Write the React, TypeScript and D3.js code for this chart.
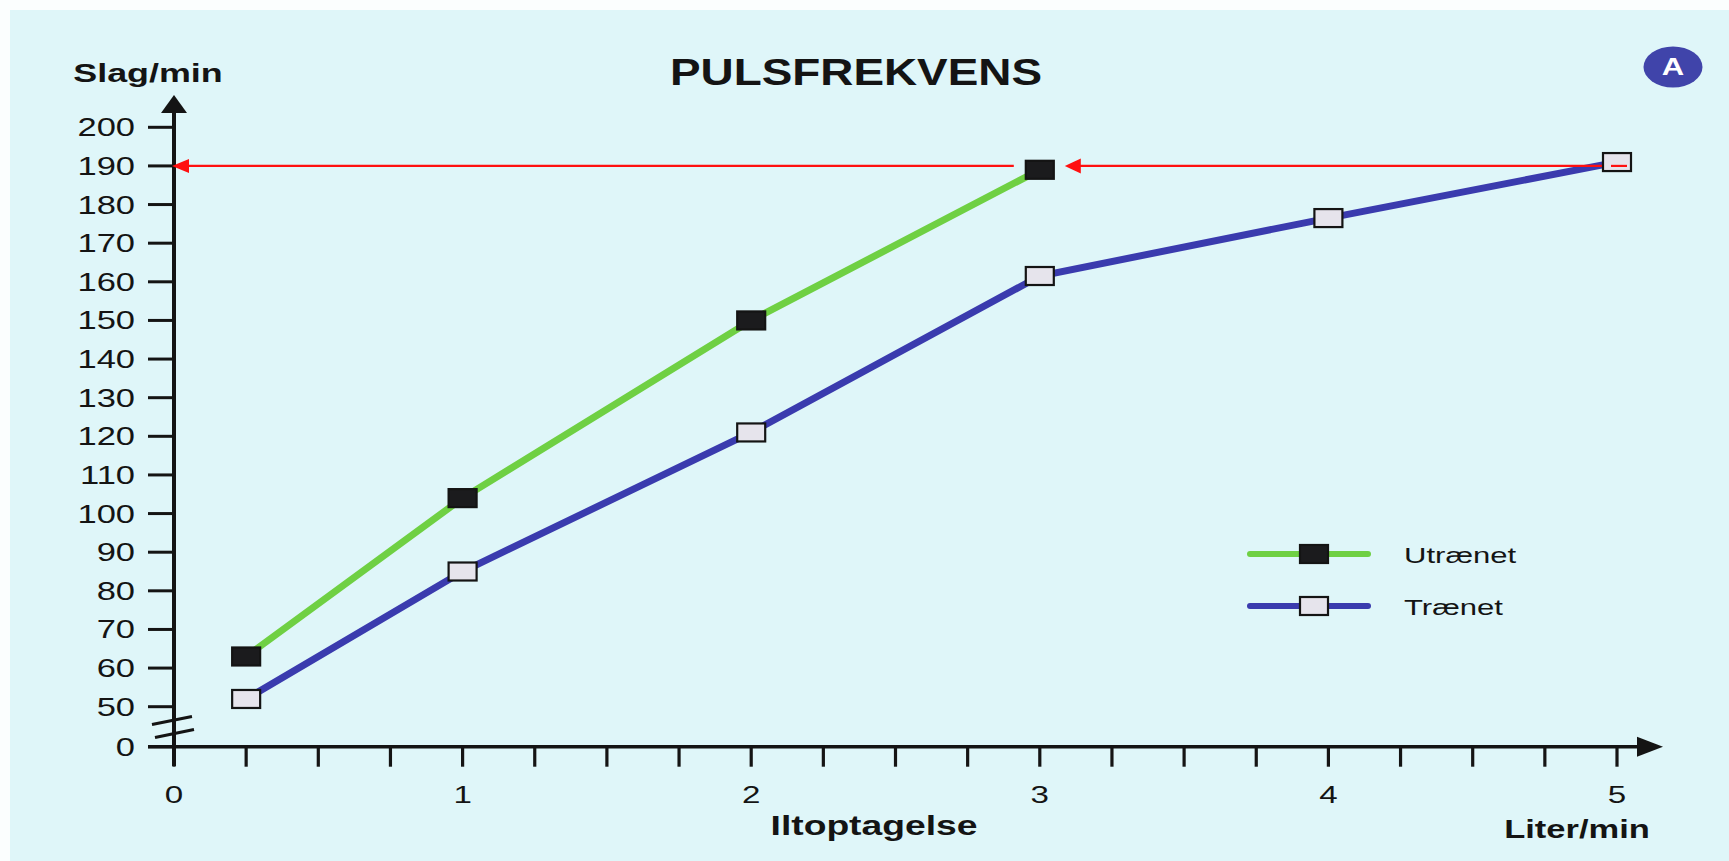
import React from "react";
import * as d3 from "d3";

const title = "PULSFREKVENS";
const yAxisTitle = "Slag/min";
const xAxisTitle = "Iltoptagelse";
const xUnitTitle = "Liter/min";
const badgeLabel = "A";

const yTicks = [50, 60, 70, 80, 90, 100, 110, 120, 130, 140, 150, 160, 170, 180, 190, 200];
const xLabelTicks = [0, 1, 2, 3, 4, 5];
const xMinorStep = 0.25;

const seriesNames = ["Utrænet", "Trænet"];
const utraenetX = [0.25, 1, 2, 3];
const utraenetY = [63, 104, 150, 189];
const traenetX = [0.25, 1, 2, 3, 4, 5];
const traenetY = [52, 85, 121, 161.5, 176.5, 191];
const maxPulse = 190;

const W = 1729;
const H = 861;
const FONT = "'Liberation Sans', Arial, Helvetica, sans-serif";
const SX = 1.38;

const BG = "#dff6f9";
const GREEN = "#6fd043";
const BLUE = "#3a3bae";
const RED = "#ff1010";
const INK = "#141414";

function T(props: {
  x: number; y: number; s?: number; size: number; bold?: boolean;
  anchor?: "start" | "middle" | "end"; fill?: string; children: React.ReactNode;
}) {
  const { x, y, s = SX, size, bold, anchor = "start", fill = INK, children } = props;
  return (
    <text
      transform={`translate(${x},${y}) scale(${s},1)`}
      textAnchor={anchor}
      fontFamily={FONT}
      fontSize={size}
      fontWeight={bold ? 700 : 400}
      fill={fill}
    >
      {children}
    </text>
  );
}

export default function App() {
  const x = d3.scaleLinear().domain([0, 5]).range([174, 1617]);
  const y = d3.scaleLinear().domain([50, 200]).range([706.7, 127.3]);
  const y0 = y(50) + 40; // zero line below axis break

  const utr = utraenetX.map((v, i) => [v, utraenetY[i]] as [number, number]);
  const tr = traenetX.map((v, i) => [v, traenetY[i]] as [number, number]);
  const line = d3.line<[number, number]>().x((d) => x(d[0])).y((d) => y(d[1]));

  const minorTicks = d3.range(0, 5 + 1e-9, xMinorStep);
  const ax = x(0);
  const mw = 28;
  const mh = 18;

  const marker = (cx: number, cy: number, dark: boolean, key: string) => (
    <rect
      key={key}
      x={cx - mw / 2}
      y={cy - mh / 2}
      width={mw}
      height={mh}
      fill={dark ? "#1b1b1d" : "#e6e4ec"}
      stroke={INK}
      strokeWidth={2.2}
    />
  );

  const yr = y(maxPulse);
  const leftStart = x(3) - 26;
  const rightStart = x(5) + 10;
  const rightTip = x(3) + 25;

  const legX = 1250;
  const legLen = 118;
  const legY1 = 554;
  const legY2 = 606;

  return (
    <svg
      width={W}
      height={H}
      style={{ position: "absolute", left: 0, top: 0, display: "block" }}
    >
      <rect x={0} y={0} width={W} height={H} fill="#fbfefe" />
      <rect x={10} y={10} width={W - 10} height={H - 10} fill={BG} />

      {/* Title */}
      <T x={856} y={85} s={1.24} size={37} bold anchor="middle">{title}</T>
      <T x={148} y={82} size={26} bold anchor="middle">{yAxisTitle}</T>

      {/* Badge */}
      <ellipse cx={1673} cy={67} rx={29.5} ry={20.5} fill="#4044aa" />
      <T x={1673} y={75} s={1.35} size={23} bold anchor="middle" fill="#ffffff">{badgeLabel}</T>

      {/* Y axis */}
      <line x1={ax} x2={ax} y1={766} y2={108} stroke={INK} strokeWidth={4} />
      <path d={`M${ax},95 L${ax - 13},113 L${ax + 13},113 Z`} fill={INK} />
      {yTicks.map((t) => (
        <g key={`yt${t}`}>
          <line x1={148} x2={ax} y1={y(t)} y2={y(t)} stroke={INK} strokeWidth={3} />
          <T x={135} y={y(t) + 9} size={25} anchor="end">{t}</T>
        </g>
      ))}
      <line x1={148} x2={ax} y1={y0} y2={y0} stroke={INK} strokeWidth={3} />
      <T x={135} y={y0 + 9} size={25} anchor="end">0</T>
      {/* axis break */}
      <line x1={152} y1={724.5} x2={192} y2={716.5} stroke={INK} strokeWidth={3} />
      <line x1={155} y1={737.5} x2={194} y2={729.5} stroke={INK} strokeWidth={3} />

      {/* X axis */}
      <line x1={148} x2={1645} y1={y0} y2={y0} stroke={INK} strokeWidth={3.5} />
      <path d={`M1663,${y0} L1637,${y0 - 10} L1637,${y0 + 10} Z`} fill={INK} />
      {minorTicks.map((t) => (
        <line key={`xt${t}`} x1={x(t)} x2={x(t)} y1={y0} y2={y0 + 20} stroke={INK} strokeWidth={3.2} />
      ))}
      {xLabelTicks.map((t) => (
        <T key={`xl${t}`} x={x(t)} y={803} size={24} anchor="middle">{t}</T>
      ))}
      <T x={874} y={835} size={27} bold anchor="middle">{xAxisTitle}</T>
      <T x={1577} y={838} size={25} bold anchor="middle">{xUnitTitle}</T>

      {/* Series lines */}
      <path d={line(tr) || ""} fill="none" stroke={BLUE} strokeWidth={7} />
      <path d={line(utr) || ""} fill="none" stroke={GREEN} strokeWidth={7} />

      {/* Red reference lines */}
      <line x1={leftStart} x2={ax + 14} y1={yr} y2={yr} stroke={RED} strokeWidth={2.2} />
      <path d={`M${ax - 2},${yr} L${ax + 15},${yr - 7} L${ax + 15},${yr + 7} Z`} fill={RED} />
      <line x1={rightStart} x2={rightTip + 14} y1={yr} y2={yr} stroke={RED} strokeWidth={2.2} />

      {/* Markers */}
      {tr.map((d, i) => marker(x(d[0]), y(d[1]), false, `tm${i}`))}
      {utr.map((d, i) => marker(x(d[0]), y(d[1]), true, `um${i}`))}

      {/* red line over last trained marker & arrowhead */}
      <line x1={x(5) - 6} x2={rightStart} y1={yr} y2={yr} stroke={RED} strokeWidth={2.2} />
      <path d={`M${rightTip},${yr} L${rightTip + 16},${yr - 7.5} L${rightTip + 16},${yr + 7.5} Z`} fill={RED} />

      {/* Legend */}
      <line x1={legX} x2={legX + legLen} y1={legY1} y2={legY1} stroke={GREEN} strokeWidth={6} strokeLinecap="round" />
      {marker(legX + 64, legY1, true, "lg1")}
      <T x={1404} y={legY1 + 9} size={22.5}>{seriesNames[0]}</T>
      <line x1={legX} x2={legX + legLen} y1={legY2} y2={legY2} stroke={BLUE} strokeWidth={6} strokeLinecap="round" />
      {marker(legX + 64, legY2, false, "lg2")}
      <T x={1404} y={legY2 + 9} size={22.5}>{seriesNames[1]}</T>
    </svg>
  );
}
